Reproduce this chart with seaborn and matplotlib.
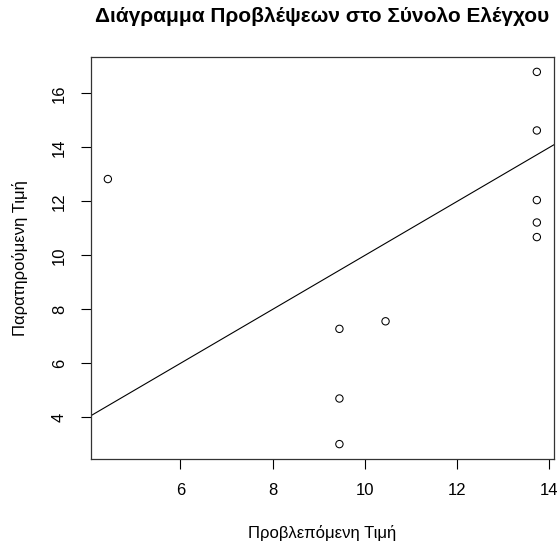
import matplotlib
matplotlib.use("Agg")
import matplotlib.pyplot as plt
import seaborn as sns
import pandas as pd

predicted = [4.43, 13.73, 13.73, 13.73, 13.73, 13.73, 9.45, 9.45, 9.45, 10.45]
observed = [12.83, 16.80, 14.63, 12.05, 11.22, 10.68, 7.28, 4.70, 3.01, 7.56]
x_ticks = [6, 8, 10, 12, 14]
y_ticks = [4, 6, 8, 10, 12, 14, 16]
title = "Διάγραμμα Προβλέψεων στο Σύνολο Ελέγχου"
xlabel = "Προβλεπόμενη Τιμή"
ylabel = "Παρατηρούμενη Τιμή"

df = pd.DataFrame({"pred": predicted, "obs": observed})

sns.set_style("white")
plt.rcParams["font.family"] = ["Liberation Sans", "DejaVu Sans"]
plt.rcParams["text.color"] = "black"
plt.rcParams["xtick.color"] = "black"
plt.rcParams["ytick.color"] = "black"

fig = plt.figure(figsize=(5.58, 5.45), dpi=100)
ax = fig.add_axes([90.7 / 558, 1 - 459 / 545, (554 - 90.7) / 558, (459 - 57) / 545])

sns.scatterplot(data=df, x="pred", y="obs", ax=ax, marker="o", s=28,
                facecolor="none", edgecolor="black", linewidth=0.75)
ax.axline((0, 0), slope=1, color="black", lw=0.8)

xmin, xmax = min(predicted), max(predicted)
ymin, ymax = min(observed), max(observed)
rx, ry = xmax - xmin, ymax - ymin
ax.set_xlim(xmin - 0.04 * rx, xmax + 0.04 * rx)
ax.set_ylim(ymin - 0.04 * ry, ymax + 0.04 * ry)

ax.set_xticks(x_ticks)
ax.set_yticks(y_ticks)
ax.tick_params(axis="both", direction="out", length=7, width=0.8, colors="black",
               labelsize=12, bottom=True, left=True)
ax.tick_params(axis="x", pad=10)
ax.tick_params(axis="y", pad=10)
for lab in ax.get_yticklabels():
    lab.set_rotation(90)
    lab.set_va("center")

for sp in ax.spines.values():
    sp.set_color("#333333")
    sp.set_linewidth(0.9)

ax.set_xlabel("")
ax.set_ylabel("")
fig.text((90.7 + 554) / 2 / 558, 1 - 533 / 545, xlabel, ha="center", va="center", fontsize=12)
fig.text(20 / 558, 1 - 258 / 545, ylabel, ha="center", va="center", rotation=90, fontsize=12)
fig.text((90.7 + 554) / 2 / 558, 1 - 17 / 545, title, ha="center", va="center",
         fontsize=15, fontweight="bold")

fig.savefig("out.png", dpi=100, facecolor="white")
